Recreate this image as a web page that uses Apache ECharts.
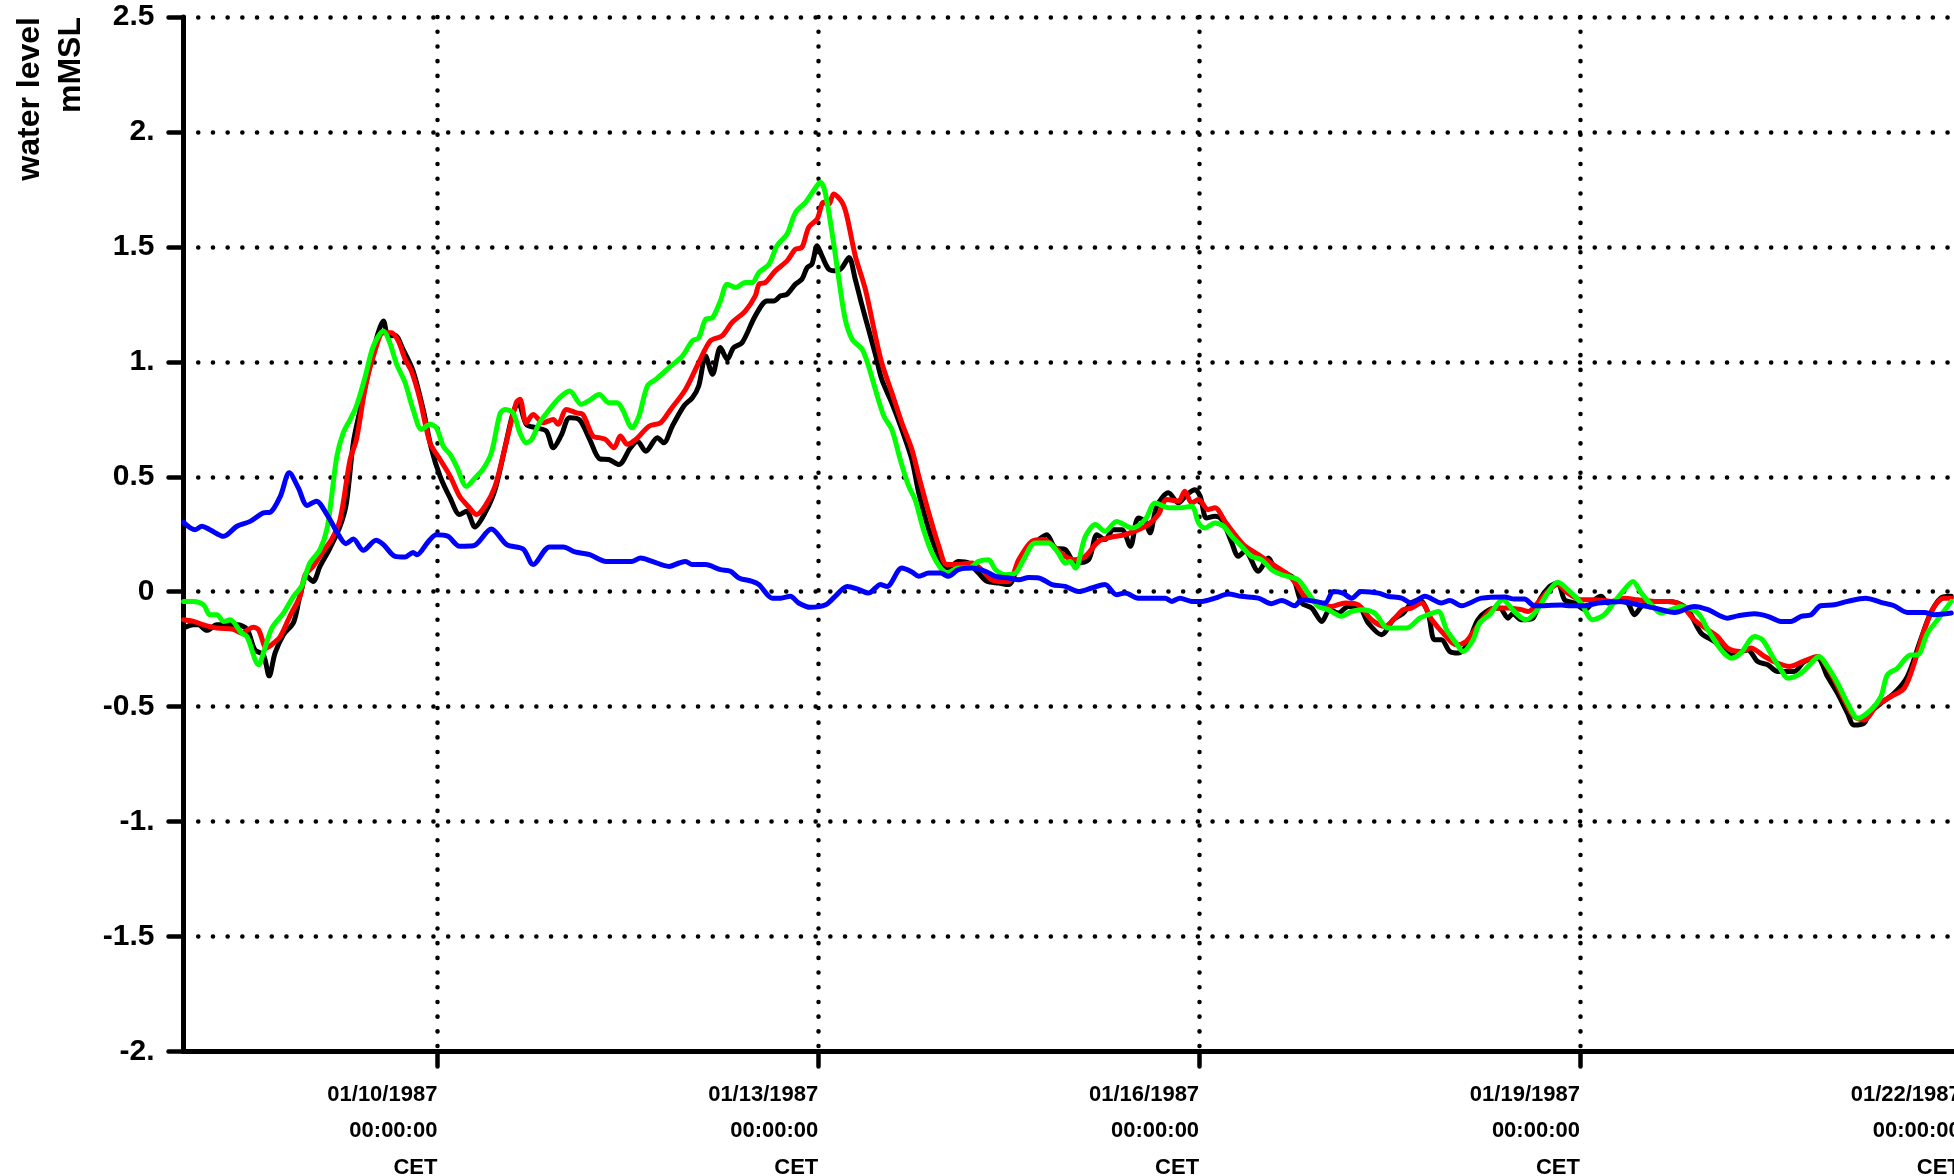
<!DOCTYPE html>
<html>
<head>
<meta charset="utf-8">
<title>water level</title>
<script src="https://cdn.jsdelivr.net/npm/echarts@6/dist/echarts.min.js"></script>
<style>
    html, body {margin: 0; padding: 0; background: #ffffff;}
    #dataChart {width: 1954px; height: 1176px;}
</style>
</head>
<body>
<div id="dataChart"></div>
<script>
// hours counted from 01/08/1987 00:00 CET
const startTime = Date.UTC(1987, 0, 8);
const endHour = 336;
const dateTicks = [48, 120, 192, 264, 336];
const levelMin = -2;
const levelMax = 2.5;
const levelStep = 0.5;

const blackHours = [
    0, 1.9, 2.8, 4.4, 6.3, 8.2, 10.1, 12.0, 13.5, 15.1, 16.2, 17.3, 18.9, 20.8, 22.0, 23.3, 24.5, 25.8, 27.7, 29.6,
    30.8, 32.1, 33.4, 35.2, 36.8, 37.8, 38.7, 40.0, 41.5, 43.4, 45.3, 46.9, 48.5, 50.4, 52.2, 53.5, 55.1, 57.0, 58.9, 60.7,
    62.3, 63.3, 64.8, 66.7, 68.6, 69.9, 71.4, 73.0, 74.9, 76.8, 78.7,
    80.4, 82.3, 84.5, 85.8, 87.4, 89.6, 90.8, 92.4, 94.6, 96.2, 97.4, 98.7, 100.0, 101.5, 102.8, 104.0, 105.6, 108.1, 110.3, 111.6,
    112.9, 114.1, 115.7, 116.9, 117.9, 118.8, 119.8, 120.7, 122.0, 123.5, 124.5, 125.8, 127.0, 128.3, 129.5, 130.8, 132.0, 133.9, 135.8, 137.7,
    139.0, 140.9, 142.8, 144.6, 146.5, 148.4, 150.3, 151.9,
    154.1, 156.0, 157.9, 159.8, 161.7, 163.2, 164.8, 166.7, 168.6, 171.1, 172.7, 174.2, 175.8, 177.4, 179.0, 180.5, 181.8, 182.7, 184.0, 186.2,
    188.1, 189.7, 191.2, 192.2, 193.4, 195.0, 196.3, 198.2, 199.4, 200.7, 203.2, 205.1, 206.3, 208.2, 209.8, 211.4, 213.3, 215.2, 216.7, 218.3,
    220.2, 222.1, 224.0, 226.5, 228.7, 230.6, 232.1, 233.7, 235.3, 236.5, 237.8,
    239.4, 241.0, 242.8, 244.7, 246.9, 248.8, 250.4, 251.3, 252.9, 255.1, 256.4, 258.3, 259.8, 261.1, 263.0, 264.9, 266.8, 268.0, 269.3, 271.2,
    273.0, 274.3, 275.9, 278.1, 280.6, 282.5, 284.4, 286.9, 289.4, 292.6, 295.7, 297.6, 299.5, 301.4, 304.5, 306.4, 308.9, 310.8, 312.7, 314.6,
    315.8, 317.7, 318.7, 320.9, 323.4, 325.9, 328.4, 330.3, 332.2, 334.2
];
const blackLevels = [
    -0.158, -0.144, -0.144, -0.168, -0.144, -0.144, -0.144, -0.163, -0.253, -0.275, -0.366, -0.267, -0.187, -0.134, -0.020, 0.067, 0.045, 0.110, 0.190, 0.285,
    0.386, 0.648, 0.793, 0.982, 1.127, 1.178, 1.113, 1.115, 1.054, 0.960, 0.793, 0.619, 0.503, 0.408, 0.336, 0.350, 0.282, 0.343, 0.444, 0.619,
    0.778, 0.822, 0.728, 0.713, 0.699, 0.626, 0.680, 0.757, 0.747, 0.662, 0.578,
    0.575, 0.553, 0.626, 0.655, 0.611, 0.670, 0.648, 0.720, 0.808, 0.844, 0.895, 1.025, 0.946, 1.062, 1.011, 1.062, 1.083, 1.200, 1.265, 1.265,
    1.287, 1.294, 1.338, 1.359, 1.410, 1.425, 1.505, 1.461, 1.403, 1.396, 1.410, 1.454, 1.359, 1.243, 1.142, 1.033, 0.924, 0.822, 0.706, 0.575,
    0.430, 0.270, 0.154, 0.103, 0.132, 0.125, 0.081, 0.045,
    0.038, 0.031, 0.125, 0.198, 0.227, 0.248, 0.190, 0.183, 0.125, 0.139, 0.248, 0.227, 0.270, 0.270, 0.198, 0.321, 0.306, 0.256, 0.372, 0.430,
    0.386, 0.423, 0.444, 0.415, 0.321, 0.328, 0.314, 0.212, 0.154, 0.176, 0.089, 0.147, 0.103, 0.081, 0.060, -0.049, -0.071, -0.129, -0.078, -0.093,
    -0.064, -0.064, -0.137, -0.187, -0.122, -0.093, -0.049, -0.035, -0.093, -0.209, -0.209,
    -0.260, -0.267, -0.224, -0.122, -0.078, -0.071, -0.115, -0.096, -0.122, -0.115, -0.035, 0.023, 0.038, -0.035, -0.049, -0.078, -0.035, -0.020, -0.049, -0.042,
    -0.049, -0.100, -0.057, -0.042, -0.042, -0.049, -0.078, -0.180, -0.216, -0.275, -0.253, -0.304, -0.318, -0.347, -0.347, -0.304, -0.289, -0.369, -0.442, -0.529,
    -0.580, -0.572, -0.529, -0.485, -0.442, -0.369, -0.209, -0.093, -0.028, -0.020
];

const redHours = [
    0, 1.9, 3.8, 6.3, 9.4, 11.0, 13.2, 14.2, 15.7, 17.0, 18.3, 20.1, 22.0, 23.0, 24.5, 26.4, 28.0, 29.6, 31.5, 32.7,
    34.3, 35.9, 37.8, 39.3, 40.6, 41.9, 43.1, 44.7, 46.6, 48.5, 50.4, 52.2, 53.8, 55.4, 57.0, 58.9, 60.7, 62.9, 63.6, 64.8,
    66.1, 68.0, 69.9, 70.8, 72.4, 74.3, 75.5, 77.4,
    78.6, 79.8, 81.4, 82.6, 83.9, 85.5, 88.0, 90.2, 92.1, 94.9, 97.4, 99.6, 101.8, 103.7, 106.2, 108.1, 108.8, 110.0, 111.9, 114.1,
    115.7, 116.9, 118.2, 119.8, 121.0, 122.0, 122.9, 124.5, 125.4, 127.0, 128.9, 130.8, 132.0, 133.9, 135.8, 137.7, 139.0, 140.9, 142.8, 144.3,
    146.5, 149.0, 150.9, 152.8,
    154.1, 156.0, 157.9, 160.4, 162.6, 164.5, 166.7, 168.6, 170.5, 173.0, 175.5, 178.0, 180.5, 182.4, 184.3, 185.9, 188.1, 189.3, 190.6, 191.9,
    193.7, 195.0, 196.9, 198.8, 200.7, 203.2, 205.1, 207.0, 208.9, 210.4, 212.0, 214.5, 217.0, 219.6, 222.1, 224.6, 227.1, 229.0, 230.6, 232.1,
    234.0, 236.0, 238.4,
    240.6, 242.5, 244.1, 246.0, 247.9, 250.4, 252.9, 254.2, 256.0, 257.9, 259.8, 261.7, 264.2, 266.8, 269.9, 272.4, 274.9, 278.1, 280.6, 283.1,
    285.6, 288.2, 290.0, 291.9, 294.4, 296.3, 298.9, 301.4, 303.6, 306.1, 308.9, 311.4, 314.0, 315.8, 317.7, 320.2, 322.8, 325.3, 327.2, 329.1,
    331.0, 332.8, 334.2
];
const redLevels = [
    -0.122, -0.129, -0.144, -0.158, -0.163, -0.180, -0.154, -0.166, -0.245, -0.224, -0.195, -0.107, -0.020, 0.074, 0.110, 0.176, 0.227, 0.314, 0.575, 0.662,
    0.880, 1.025, 1.127, 1.127, 1.091, 1.011, 0.960, 0.837, 0.648, 0.575, 0.503, 0.415, 0.372, 0.336, 0.372, 0.459, 0.619, 0.822, 0.837, 0.735,
    0.771, 0.735, 0.749, 0.728, 0.793, 0.778, 0.771, 0.677,
    0.670, 0.662, 0.626, 0.677, 0.641, 0.662, 0.720, 0.735, 0.793, 0.880, 0.996, 1.091, 1.113, 1.171, 1.221, 1.287, 1.338, 1.345, 1.396, 1.439,
    1.490, 1.497, 1.585, 1.621, 1.694, 1.686, 1.730, 1.694, 1.635, 1.461, 1.316, 1.113, 0.996, 0.866, 0.735, 0.619, 0.503, 0.343, 0.198, 0.118,
    0.118, 0.125, 0.096, 0.052,
    0.045, 0.045, 0.139, 0.219, 0.227, 0.198, 0.154, 0.139, 0.154, 0.219, 0.238, 0.248, 0.270, 0.292, 0.336, 0.401, 0.394, 0.437, 0.386, 0.401,
    0.357, 0.365, 0.306, 0.248, 0.198, 0.161, 0.132, 0.103, 0.074, 0.031, -0.020, -0.049, -0.064, -0.049, -0.057, -0.122, -0.151, -0.115, -0.078, -0.071,
    -0.049, -0.122, -0.187,
    -0.231, -0.216, -0.166, -0.107, -0.071, -0.071, -0.078, -0.086, -0.049, 0.001, 0.031, -0.006, -0.035, -0.035, -0.042, -0.028, -0.035, -0.042, -0.042, -0.057,
    -0.122, -0.166, -0.195, -0.245, -0.260, -0.245, -0.282, -0.311, -0.325, -0.304, -0.282, -0.354, -0.471, -0.543, -0.558, -0.492, -0.456, -0.420, -0.311, -0.166,
    -0.064, -0.028, -0.028
];

const greenHours = [
    0, 1.9, 3.8, 5.0, 6.3, 7.6, 8.8, 11.0, 12.0, 14.2, 15.1, 16.7, 18.9, 20.8, 22.3, 23.9, 25.8, 27.1, 28.0, 29.0,
    30.2, 31.5, 32.7, 34.3, 35.9, 37.8, 39.0, 40.3, 41.9, 43.4, 45.0, 46.6, 47.8, 49.1, 50.4, 51.6, 53.5, 55.1, 56.6, 58.2,
    59.8, 60.7, 62.3, 63.6, 64.8, 65.8, 67.3, 69.2, 71.1, 73.0, 75.2, 76.5,
    78.6, 80.4, 82.0, 83.0, 84.8, 86.1, 87.7, 89.3, 91.8, 94.3, 96.2, 97.4, 98.7, 100.0, 101.5, 102.8, 104.4, 106.2, 107.5, 108.8,
    110.7, 112.2, 114.1, 115.7, 117.6, 119.1, 120.4, 121.3, 122.6, 123.9, 125.1, 126.4, 128.3, 129.5, 130.8, 132.4, 133.9, 135.5, 137.1, 138.3,
    139.9, 141.5, 143.1, 144.3, 146.5, 148.4, 150.3, 152.2,
    153.5, 155.4, 157.3, 158.8, 161.0, 163.5, 165.4, 166.7, 167.6, 168.6, 170.5, 172.4, 174.2, 176.4, 179.3, 181.8, 183.7, 186.2, 188.4, 190.6,
    191.9, 193.1, 195.0, 196.6, 198.2, 200.0, 201.9, 203.8, 205.7, 207.6, 210.7, 212.6, 214.5, 216.4, 218.9, 220.8, 222.7, 225.2, 227.7, 231.2,
    233.7, 235.3, 237.2, 238.8,
    240.6, 241.9, 243.8, 245.0, 246.9, 249.4, 251.6, 253.8, 255.7, 257.9, 259.8, 261.7, 264.2, 266.4, 268.6, 270.8, 272.4, 274.0, 275.6, 277.5,
    279.3, 281.2, 283.1, 286.3, 288.2, 290.7, 292.6, 294.4, 297.0, 298.5, 300.4, 302.0, 303.3, 305.8, 307.7, 309.2, 310.8, 312.7, 314.6, 316.5,
    319.0, 320.9, 322.1, 324.0, 326.5, 327.8, 329.7, 331.6, 334.2
];
const greenLevels = [
    -0.042, -0.042, -0.057, -0.100, -0.100, -0.129, -0.122, -0.180, -0.195, -0.318, -0.267, -0.158, -0.093, -0.020, 0.023, 0.125, 0.183, 0.270, 0.415, 0.590,
    0.691, 0.749, 0.808, 0.931, 1.069, 1.134, 1.083, 0.989, 0.909, 0.793, 0.706, 0.728, 0.713, 0.633, 0.597, 0.546, 0.459, 0.495, 0.532, 0.604,
    0.771, 0.793, 0.778, 0.691, 0.648, 0.662, 0.735, 0.793, 0.844, 0.873, 0.815, 0.829,
    0.858, 0.822, 0.822, 0.793, 0.713, 0.764, 0.895, 0.924, 0.975, 1.025, 1.091, 1.105, 1.185, 1.192, 1.265, 1.338, 1.323, 1.345, 1.345, 1.389,
    1.425, 1.505, 1.556, 1.650, 1.694, 1.744, 1.781, 1.737, 1.563, 1.359, 1.185, 1.098, 1.054, 0.982, 0.880, 0.764, 0.706, 0.575, 0.459, 0.401,
    0.270, 0.168, 0.103, 0.081, 0.103, 0.103, 0.132, 0.139,
    0.096, 0.074, 0.081, 0.139, 0.212, 0.212, 0.168, 0.125, 0.132, 0.103, 0.241, 0.292, 0.263, 0.306, 0.277, 0.314, 0.386, 0.365, 0.365, 0.372,
    0.299, 0.277, 0.299, 0.285, 0.241, 0.198, 0.154, 0.139, 0.096, 0.074, 0.052, -0.006, -0.064, -0.078, -0.107, -0.086, -0.078, -0.093, -0.158, -0.158,
    -0.115, -0.100, -0.086, -0.166,
    -0.224, -0.260, -0.209, -0.137, -0.100, -0.035, -0.086, -0.122, -0.086, -0.006, 0.041, 0.009, -0.049, -0.122, -0.100, -0.035, 0.009, 0.045, -0.006, -0.057,
    -0.093, -0.078, -0.064, -0.093, -0.166, -0.253, -0.289, -0.267, -0.195, -0.209, -0.282, -0.340, -0.376, -0.354, -0.311, -0.282, -0.325, -0.398, -0.485, -0.550,
    -0.514, -0.456, -0.362, -0.333, -0.275, -0.275, -0.180, -0.122, -0.042
];

const blueHours = [
    0, 2.2, 3.5, 5.0, 7.6, 10.1, 12.6, 15.1, 16.4, 18.3, 20.0, 21.7, 23.4, 25.1, 27.1, 29.3, 30.7, 32.1, 34.0, 36.4,
    37.8, 40.0, 41.9, 43.4, 44.1, 46.3, 47.8, 50.0, 52.2, 54.8, 58.2, 61.1, 64.2, 66.1, 69.2, 71.8, 74.0, 76.8,
    79.9, 81.1, 84.8, 86.4, 88.6, 91.8, 93.7, 94.9, 96.2, 98.7, 101.5, 103.4, 105.0, 107.5, 108.8, 111.3, 112.9, 114.7, 116.3, 118.5,
    121.4, 123.2, 125.5, 127.7, 129.5, 130.8, 131.7, 133.0, 135.8, 137.7, 139.0, 140.9, 143.1, 144.6, 146.5, 149.0, 151.6,
    153.5, 156.0, 157.9, 159.8, 161.7, 164.2, 166.7, 169.2, 171.7, 174.2, 176.4, 178.0, 180.5, 185.6, 186.8, 188.4, 190.6, 192.5, 195.0, 197.5,
    200.0, 203.2, 205.7, 207.6, 210.1, 211.4, 213.9, 215.8, 217.4, 219.2, 220.8, 222.7, 225.9, 227.7, 230.3, 232.1, 234.7, 237.8,
    239.4, 241.6, 245.4, 249.8, 251.6, 253.5, 255.4, 260.5, 262.3, 264.9, 267.4, 271.8, 275.0, 278.1, 281.9, 285.6, 288.2, 291.9, 293.8, 297.0,
    299.5, 302.0, 303.9, 305.8, 307.7, 309.5, 312.1, 314.6, 318.0, 320.9, 323.4, 325.9, 329.1, 331.0, 334.2
];
const blueLevels = [
    0.302, 0.270, 0.285, 0.270, 0.241, 0.285, 0.306, 0.343, 0.346, 0.415, 0.517, 0.452, 0.375, 0.394, 0.336, 0.248, 0.209, 0.229, 0.180, 0.224,
    0.205, 0.154, 0.151, 0.171, 0.161, 0.219, 0.248, 0.241, 0.198, 0.200, 0.273, 0.205, 0.186, 0.118, 0.195, 0.195, 0.173, 0.161,
    0.132, 0.132, 0.132, 0.147, 0.132, 0.110, 0.125, 0.132, 0.118, 0.118, 0.096, 0.089, 0.060, 0.045, 0.031, -0.028, -0.028, -0.020, -0.049, -0.068,
    -0.057, -0.020, 0.023, 0.009, -0.006, 0.016, 0.031, 0.023, 0.103, 0.086, 0.067, 0.081, 0.081, 0.067, 0.096, 0.103, 0.089,
    0.067, 0.060, 0.052, 0.062, 0.060, 0.031, 0.023, 0.001, 0.016, 0.031, -0.013, -0.006, -0.028, -0.028, -0.042, -0.028, -0.042, -0.042, -0.028, -0.010,
    -0.020, -0.028, -0.052, -0.038, -0.061, -0.035, -0.042, -0.049, 0.001, -0.006, -0.028, 0.001, -0.006, -0.020, -0.028, -0.049, -0.020, -0.049,
    -0.038, -0.061, -0.028, -0.023, -0.032, -0.032, -0.061, -0.058, -0.061, -0.061, -0.049, -0.042, -0.057, -0.071, -0.090, -0.064, -0.078, -0.115, -0.105, -0.096,
    -0.107, -0.129, -0.129, -0.107, -0.100, -0.061, -0.057, -0.042, -0.028, -0.046, -0.061, -0.090, -0.090, -0.100, -0.093
];

function pairs(hours, levels) {
    return hours.map((h, i) => [h, levels[i]]);
}

function pad(n) {
    return (n < 10 ? '0' : '') + n;
}

function dateLabel(h) {
    const d = new Date(startTime + h * 3600 * 1000);
    return pad(d.getUTCMonth() + 1) + '/' + pad(d.getUTCDate()) + '/' + d.getUTCFullYear() +
        '\n' + pad(d.getUTCHours()) + ':' + pad(d.getUTCMinutes()) + ':00\nCET';
}

function levelLabel(v) {
    if (v === 0) return '0';
    return Number.isInteger(v) ? v + '.' : String(v);
}

const font = '"Liberation Sans", Arial, sans-serif';
const dotted = {color: '#000', width: 4.5, type: [0.1, 14.6], cap: 'round'};

function line(name, color, hours, levels) {
    return {
        name: name,
        type: 'line',
        data: pairs(hours, levels),
        showSymbol: false,
        symbol: 'none',
        smooth: 0.3,
        clip: true,
        lineStyle: {color: color, width: 5, join: 'round', cap: 'round'},
        emphasis: {disabled: true}
    };
}

let myChart = echarts.init(document.getElementById('dataChart'));
myChart.setOption({
    animation: false,
    backgroundColor: '#ffffff',
    // the plot runs a little past the right edge of the picture, so no auto fitting of labels
    grid: {left: 183.5, top: 17, width: 1777.3, height: 1034.5, containLabel: false, outerBoundsMode: 'none'},
    graphic: [{
        type: 'text',
        x: 51,
        y: 17,
        rotation: Math.PI / 2,
        style: {
            text: 'water level\nmMSL',
            font: 'bold 32px ' + font,
            fill: '#000',
            align: 'right',
            verticalAlign: 'middle',
            lineHeight: 41
        }
    }],
    xAxis: {
        type: 'value',
        min: 0,
        max: endHour,
        axisLine: {onZero: false, lineStyle: {color: '#000', width: 5}},
        axisTick: {show: true, inside: false, length: 15, customValues: dateTicks, lineStyle: {color: '#000', width: 4.5, cap: 'round'}},
        splitLine: {show: true, lineStyle: dotted},
        axisLabel: {
            customValues: dateTicks,
            formatter: dateLabel,
            color: '#000',
            fontFamily: font,
            fontWeight: 'bold',
            fontSize: 22,
            lineHeight: 36.5,
            align: 'right',
            verticalAlign: 'top',
            margin: 25
        }
    },
    yAxis: {
        type: 'value',
        min: levelMin,
        max: levelMax,
        interval: levelStep,
        axisLine: {show: true, lineStyle: {color: '#000', width: 5}},
        axisTick: {show: true, inside: false, length: 15, lineStyle: {color: '#000', width: 4.5, cap: 'round'}},
        splitLine: {show: true, lineStyle: dotted},
        axisLabel: {
            formatter: levelLabel,
            color: '#000',
            fontFamily: font,
            fontWeight: 'bold',
            fontSize: 30,
            margin: 29
        }
    },
    series: [
        line('black', '#000000', blackHours, blackLevels),
        line('red', '#ff0000', redHours, redLevels),
        line('green', '#00ff00', greenHours, greenLevels),
        line('blue', '#0000ff', blueHours, blueLevels)
    ]
});
</script>
</body>
</html>
